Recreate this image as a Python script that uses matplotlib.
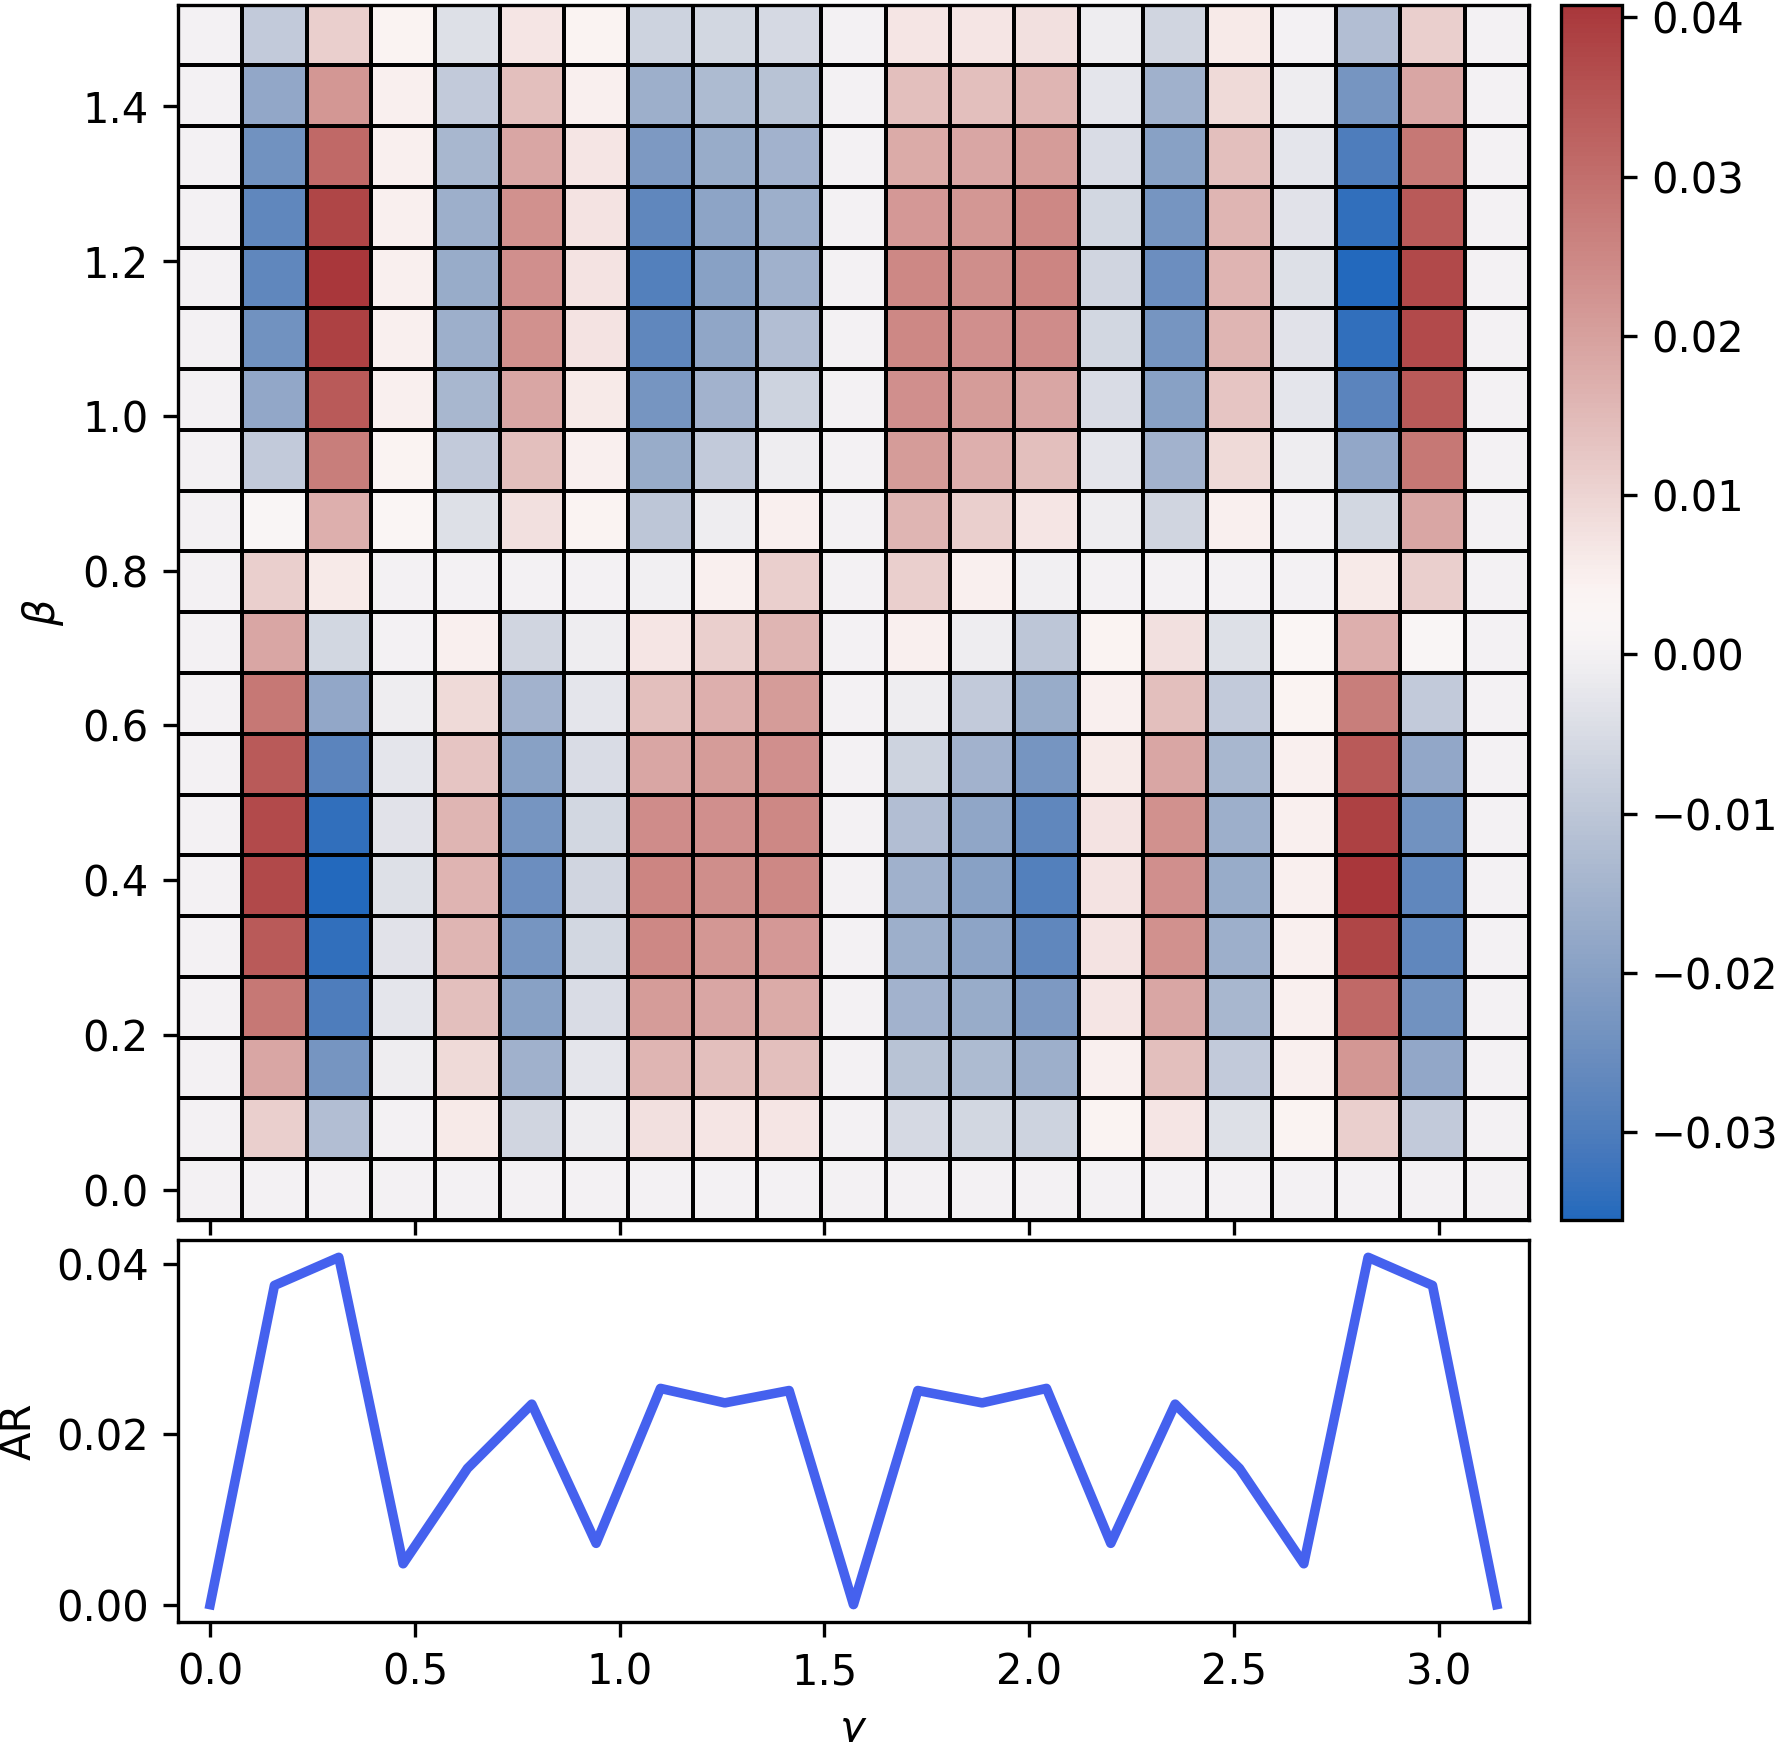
import numpy as np
import matplotlib
matplotlib.use("Agg")
import matplotlib.pyplot as plt
import seaborn as sns

# grid of QAOA angles
gamma = np.linspace(0, np.pi, 21)
beta = np.arange(20) * np.pi / 40

# energy difference landscape, rows = beta (bottom -> top), cols = gamma
landscape = np.array([
    [0, 0, 0, 0, 0, 0, 0, 0, 0, 0, 0, 0, 0, 0, 0, 0, 0, 0, 0, 0, 0],
    [0, 0.011, -0.012, 0.000, 0.006, -0.0065, -0.001, 0.008, 0.007, 0.007, 0,
     -0.0055, -0.006, -0.007, 0.004, 0.007, -0.004, 0.004, 0.011, -0.009, 0],
    [0, 0.019, -0.023, -0.001, 0.009, -0.0155, -0.003, 0.016, 0.014, 0.014, 0,
     -0.011, -0.013, -0.016, 0.005, 0.014, -0.009, 0.005, 0.022, -0.018, 0],
    [0, 0.028, -0.030, -0.003, 0.014, -0.020, -0.005, 0.021, 0.019, 0.018, 0,
     -0.015, -0.017, -0.022, 0.007, 0.019, -0.014, 0.005, 0.031, -0.024, 0],
    [0, 0.034, -0.034, -0.0035, 0.016, -0.023, -0.006, 0.025, 0.022, 0.0215, 0,
     -0.016, -0.019, -0.027, 0.0072, 0.023, -0.016, 0.005, 0.038, -0.027, 0],
    [0, 0.0375, -0.0355, -0.004, 0.0163, -0.025, -0.0065, 0.0254, 0.0237, 0.025, 0,
     -0.0155, -0.020, -0.029, 0.0072, 0.0235, -0.017, 0.005, 0.0408, -0.027, 0],
    [0, 0.037, -0.034, -0.0035, 0.016, -0.023, -0.006, 0.024, 0.0235, 0.0248, 0,
     -0.012, -0.0185, -0.027, 0.0072, 0.023, -0.016, 0.005, 0.039, -0.024, 0],
    [0, 0.034, -0.028, -0.003, 0.013, -0.020, -0.005, 0.019, 0.021, 0.0235, 0,
     -0.007, -0.015, -0.023, 0.006, 0.019, -0.014, 0.005, 0.034, -0.018, 0],
    [0, 0.028, -0.018, -0.001, 0.009, -0.015, -0.003, 0.014, 0.017, 0.021, 0,
     -0.001, -0.009, -0.017, 0.005, 0.014, -0.009, 0.004, 0.027, -0.009, 0],
    [0, 0.019, -0.006, 0.000, 0.005, -0.0065, -0.001, 0.007, 0.011, 0.016, 0,
     0.005, -0.001, -0.010, 0.004, 0.008, -0.004, 0.003, 0.017, 0.002, 0],
    [0, 0.011, 0.006, 0.000, 0.000, 0.000, 0.000, -0.0005, 0.005, 0.011, 0,
     0.011, 0.005, -0.0005, 0.000, 0.000, 0.000, 0.000, 0.006, 0.011, 0],
    [0, 0.002, 0.017, 0.003, -0.004, 0.008, 0.004, -0.010, -0.001, 0.005, 0,
     0.016, 0.011, 0.007, -0.001, -0.0065, 0.005, 0.000, -0.006, 0.019, 0],
    [0, -0.009, 0.027, 0.004, -0.009, 0.014, 0.005, -0.017, -0.009, -0.001, 0,
     0.021, 0.017, 0.014, -0.003, -0.015, 0.009, -0.001, -0.018, 0.028, 0],
    [0, -0.018, 0.034, 0.005, -0.014, 0.019, 0.006, -0.023, -0.015, -0.007, 0,
     0.0235, 0.021, 0.019, -0.005, -0.020, 0.013, -0.003, -0.028, 0.034, 0],
    [0, -0.024, 0.039, 0.005, -0.016, 0.023, 0.0072, -0.027, -0.0185, -0.012, 0,
     0.0248, 0.0235, 0.024, -0.006, -0.023, 0.016, -0.0035, -0.034, 0.037, 0],
    [0, -0.027, 0.0408, 0.005, -0.017, 0.0235, 0.0072, -0.029, -0.020, -0.0155, 0,
     0.025, 0.0237, 0.0254, -0.0065, -0.025, 0.0163, -0.004, -0.0355, 0.0375, 0],
    [0, -0.027, 0.038, 0.005, -0.016, 0.023, 0.0072, -0.027, -0.019, -0.016, 0,
     0.0215, 0.022, 0.025, -0.006, -0.023, 0.016, -0.0035, -0.034, 0.034, 0],
    [0, -0.024, 0.031, 0.005, -0.014, 0.019, 0.007, -0.022, -0.017, -0.015, 0,
     0.018, 0.019, 0.021, -0.005, -0.020, 0.014, -0.003, -0.030, 0.028, 0],
    [0, -0.018, 0.022, 0.005, -0.009, 0.014, 0.005, -0.016, -0.013, -0.011, 0,
     0.014, 0.014, 0.016, -0.003, -0.0155, 0.009, -0.001, -0.023, 0.019, 0],
    [0, -0.009, 0.011, 0.004, -0.004, 0.007, 0.004, -0.007, -0.006, -0.0055, 0,
     0.007, 0.007, 0.008, -0.001, -0.0065, 0.006, 0.000, -0.012, 0.011, 0],
])

# best approximation-ratio gain for every gamma
ar = [0, 0.0375, 0.0408, 0.0048, 0.016, 0.02355, 0.0072, 0.0254, 0.0237, 0.02515, 0,
      0.02515, 0.0237, 0.0254, 0.0072, 0.02355, 0.016, 0.0048, 0.0408, 0.0375, 0]

plt.rcParams["font.size"] = 10

fig = plt.figure(figsize=(1776 / 300, 1742 / 300), dpi=300)
ax = fig.add_axes([0.1002, 0.2997, 0.7607, 0.6977])
cax = fig.add_axes([0.8789, 0.2997, 0.0343, 0.6977])
ax2 = fig.add_axes([0.1002, 0.0689, 0.7607, 0.2193], sharex=ax)

cmap = sns.color_palette("vlag", as_cmap=True)
mesh = ax.pcolormesh(gamma, beta, landscape, shading="nearest", cmap=cmap,
                     edgecolors="k", linewidth=0.5)
fig.colorbar(mesh, cax=cax)
ax.set_ylabel(r"$\beta$")
ax.tick_params(labelbottom=False)

ax2.plot(gamma, ar, color="#4561EE", lw=2.3)
ax2.set_xlabel(r"$\gamma$")
ax2.set_ylabel("AR")

fig.savefig("out.png", dpi=300)
